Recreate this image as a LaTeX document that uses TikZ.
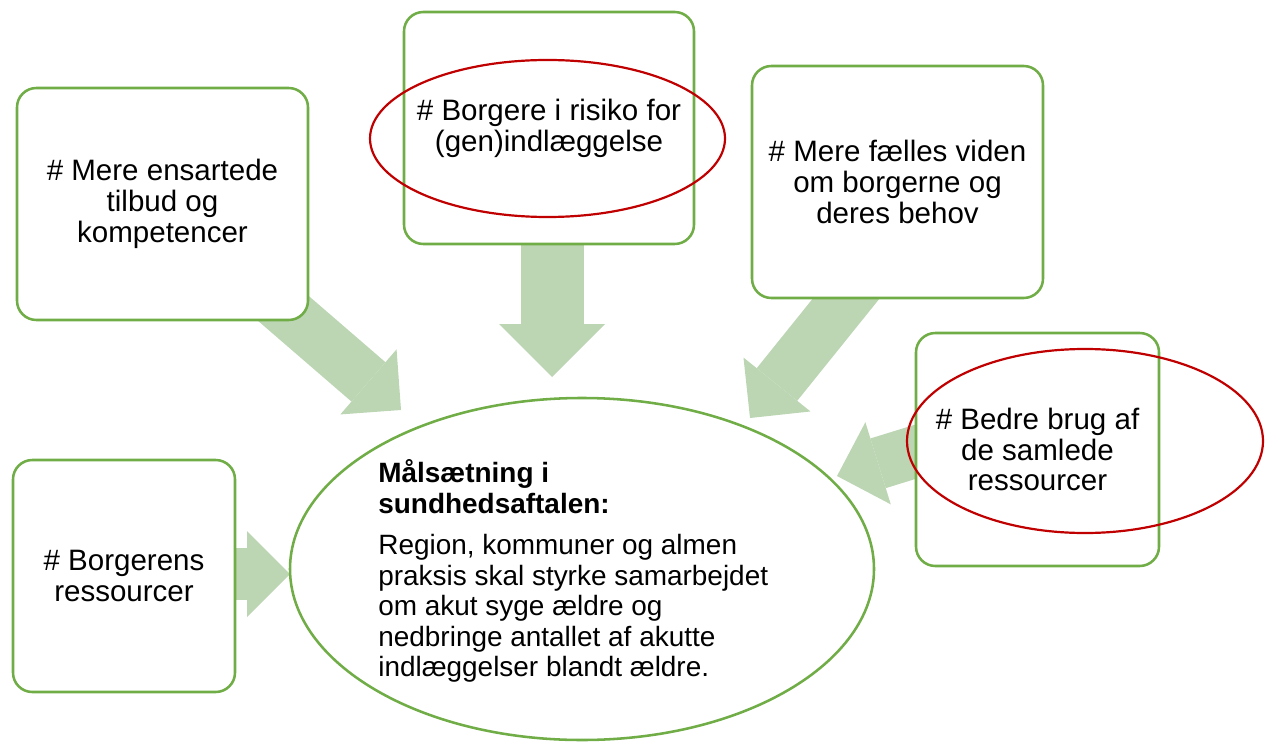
\documentclass[tikz,border=0pt]{standalone}
\usepackage{fontspec}
\setmainfont{Liberation Sans}
\usetikzlibrary{arrows.meta,positioning,shapes.geometric,backgrounds}
\definecolor{boxgreen}{HTML}{70AD47}
\definecolor{arrowgreen}{HTML}{BCD5B3}
\definecolor{ringred}{HTML}{C00000}

\begin{document}
\begin{tikzpicture}[
  box/.style={draw=boxgreen, line width=1.45pt, fill=white, rounded corners=11pt, minimum height=4.64cm, align=center, inner sep=0pt},
  goal/.style={draw=boxgreen, line width=1.45pt, fill=white, ellipse, minimum width=11.68cm, minimum height=6.84cm, inner sep=0pt},
  ring/.style={draw=ringred, line width=1.25pt, ellipse, inner sep=0pt},
  fat/.style={draw=arrowgreen, line width=1.04cm, -{Triangle[length=8.6mm, width=17.2mm, line width=0pt]}},
  fatter/.style={draw=arrowgreen, line width=1.26cm, -{Triangle[length=10.6mm, width=21.2mm, line width=0pt]}},
  every node/.style={font=\fontsize{16.8pt}{17.6pt}\selectfont}
]
  \useasboundingbox (0,0) rectangle (25.38,-14.90);

  % --- BOKSE ---
  \node[box, minimum width=5.82cm] (ensartede) at (3.25,-4.08) {\# Mere ensartede\\tilbud og\\kompetencer};
  \node[box, minimum width=5.80cm] (risiko) at (10.98,-2.56) {\# Borgere i risiko for\\(gen)indlæggelse};
  \node[box, minimum width=5.82cm] (viden) at (17.95,-3.64) {\# Mere fælles viden\\om borgerne og\\deres behov};
  \node[box, minimum width=4.86cm, minimum height=4.66cm] (bedre) at (20.75,-8.99) {\# Bedre brug af\\de samlede\\ressourcer};
  \node[box, minimum width=4.44cm] (borgerens) at (2.48,-11.52) {\# Borgerens\\ressourcer};

  % --- MÅLSÆTNING ---
  \node[goal] (maal) at (11.64,-11.38) {};
  \node[anchor=west, align=left, inner sep=0pt, font=\fontsize{15.9pt}{17.3pt}\selectfont] (maaltekst) at (7.56,-11.42)
    {\textbf{Målsætning i}\\\textbf{sundhedsaftalen:}\\[6.5pt]Region, kommuner og almen\\praksis skal styrke samarbejdet\\om akut syge ældre og\\nedbringe antallet af akutte\\indlæggelser blandt ældre.};

  % --- RØDE MARKERINGER ---
  \node[ring, minimum width=7.10cm, minimum height=3.14cm] (ringrisiko) at (10.95,-2.77) {};
  \node[ring, minimum width=7.12cm, minimum height=3.68cm] (ringbedre) at (21.70,-8.82) {};

  % --- PILE ---
  \coordinate (tipA) at (8.02,-8.20);
  \coordinate (tipB) at (11.04,-7.54);
  \coordinate (tipC) at (15.00,-8.36);
  \coordinate (tipD) at (16.74,-9.52);
  \coordinate (tipE) at (5.80,-11.48);

  \begin{scope}[on background layer]
    \draw[fat] (ensartede.center) -- (tipA);
    \draw[fatter] (risiko.center -| tipB) -- (tipB);
    \draw[fat] ([xshift=8.5mm]viden.center) -- (tipC);
    \draw[fat] ([yshift=7.1mm]bedre.center) -- (tipD);
    \draw[fat] (borgerens.center |- tipE) -- (tipE);
  \end{scope}

\end{tikzpicture}
\end{document}
